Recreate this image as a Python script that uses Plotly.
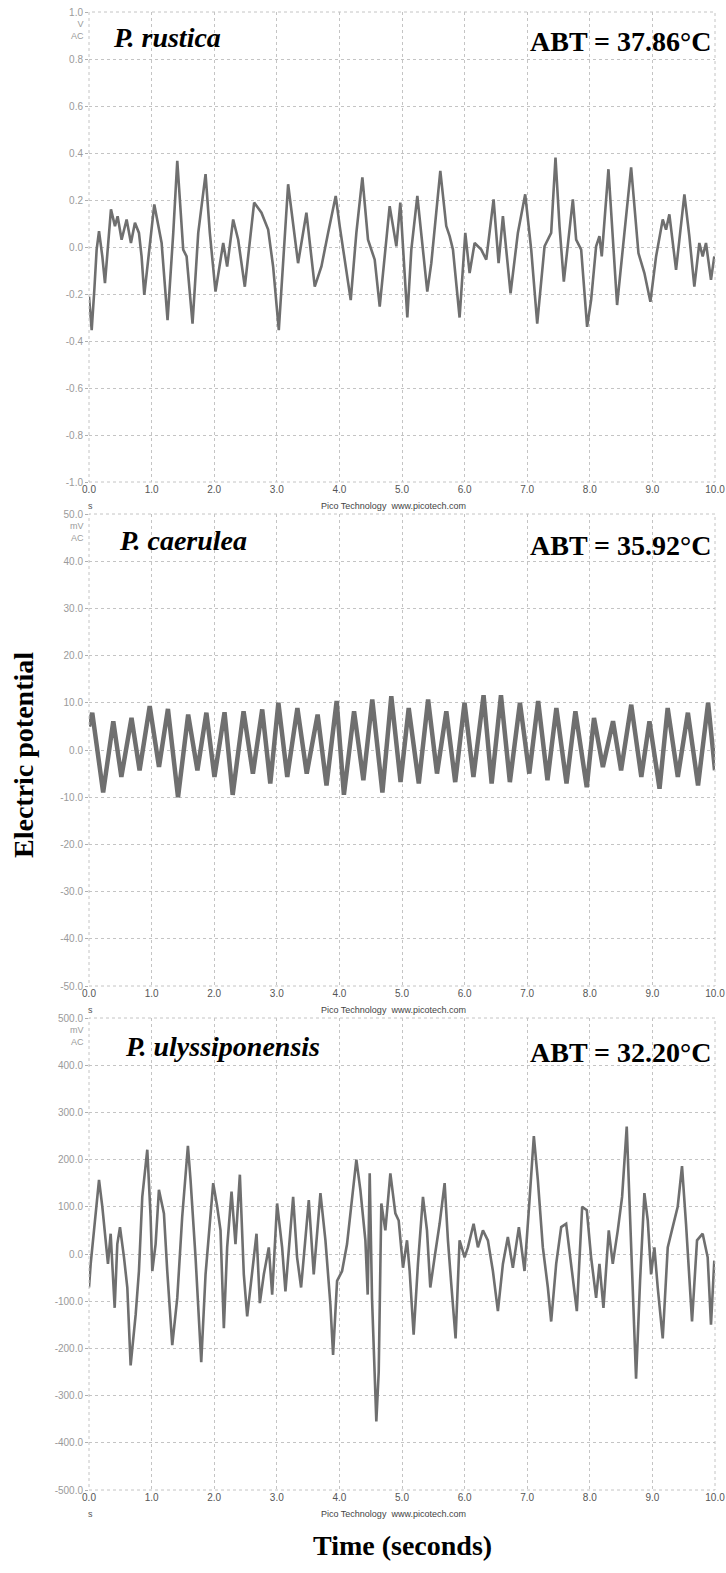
import plotly.graph_objects as go

W, H = 726, 1573

# ---------------- data ----------------
species = ["P. rustica", "P. caerulea", "P. ulyssiponensis"]
abt_labels = ["ABT = 37.86°C", "ABT = 35.92°C", "ABT = 32.20°C"]
units = ["V<br>AC", "mV<br>AC", "mV<br>AC"]

x_tick_vals = [0, 1, 2, 3, 4, 5, 6, 7, 8, 9, 10]
x_tick_text = ["0.0", "1.0", "2.0", "3.0", "4.0", "5.0", "6.0", "7.0", "8.0", "9.0", "10.0"]

y1_tick_vals = [1.0, 0.8, 0.6, 0.4, 0.2, 0.0, -0.2, -0.4, -0.6, -0.8, -1.0]
y1_tick_text = ["1.0", "0.8", "0.6", "0.4", "0.2", "0.0", "-0.2", "-0.4", "-0.6", "-0.8", "-1.0"]
y2_tick_vals = [50, 40, 30, 20, 10, 0, -10, -20, -30, -40, -50]
y2_tick_text = ["50.0", "40.0", "30.0", "20.0", "10.0", "0.0", "-10.0", "-20.0", "-30.0", "-40.0", "-50.0"]
y3_tick_vals = [500, 400, 300, 200, 100, 0, -100, -200, -300, -400, -500]
y3_tick_text = ["500.0", "400.0", "300.0", "200.0", "100.0", "0.0", "-100.0", "-200.0", "-300.0", "-400.0", "-500.0"]

# P. rustica (V)
t1 = [0.000, 0.043, 0.085, 0.122, 0.160, 0.213, 0.255, 0.309, 0.351, 0.415, 0.457, 0.521, 0.601, 0.670,
      0.734, 0.798, 0.840, 0.883, 1.043, 1.160, 1.255, 1.346, 1.410, 1.505, 1.559, 1.654, 1.745, 1.862,
      1.930, 2.021, 2.144, 2.207, 2.303, 2.383, 2.489, 2.638, 2.755, 2.862, 2.941, 3.032, 3.101, 3.181,
      3.340, 3.473, 3.606, 3.713, 3.819, 3.941, 4.005, 4.181, 4.271, 4.367, 4.457, 4.564, 4.644, 4.803,
      4.910, 4.973, 5.085, 5.149, 5.245, 5.309, 5.404, 5.468, 5.612, 5.707, 5.761, 5.814, 5.920, 6.011,
      6.080, 6.160, 6.266, 6.346, 6.463, 6.543, 6.612, 6.734, 6.851, 6.968, 7.064, 7.160, 7.277, 7.383,
      7.452, 7.516, 7.585, 7.729, 7.782, 7.862, 7.957, 8.021, 8.101, 8.154, 8.191, 8.298, 8.383, 8.436,
      8.553, 8.660, 8.777, 8.872, 8.968, 9.059, 9.165, 9.218, 9.271, 9.378, 9.511, 9.590, 9.670, 9.750,
      9.803, 9.856, 9.936, 9.989]
v1 = [-0.211, -0.354, -0.183, -0.011, 0.067, -0.040, -0.154, 0.017, 0.160, 0.089, 0.131, 0.031, 0.117, 0.017,
      0.103, 0.060, -0.040, -0.204, 0.181, 0.017, -0.311, 0.060, 0.367, -0.011, -0.040, -0.326, 0.060, 0.310,
      0.060, -0.190, 0.017, -0.083, 0.117, 0.031, -0.169, 0.189, 0.146, 0.074, -0.083, -0.354, -0.083, 0.267,
      -0.069, 0.146, -0.169, -0.083, 0.060, 0.217, 0.089, -0.226, 0.060, 0.296, 0.031, -0.054, -0.254, 0.174,
      0.003, 0.189, -0.300, -0.011, 0.217, 0.060, -0.190, -0.069, 0.324, 0.089, 0.046, -0.011, -0.300, 0.060,
      -0.111, 0.017, -0.011, -0.054, 0.203, -0.069, 0.131, -0.197, 0.060, 0.224, -0.011, -0.326, 0.003, 0.060,
      0.381, 0.089, -0.147, 0.203, 0.031, -0.011, -0.340, -0.226, 0.003, 0.046, -0.040, 0.331, -0.011, -0.247,
      0.060, 0.339, -0.026, -0.111, -0.233, -0.040, 0.117, 0.074, 0.139, -0.097, 0.224, 0.046, -0.169, 0.017,
      -0.040, 0.017, -0.140, -0.040]

# P. caerulea (mV)
t2 = [0.000, 0.052, 0.226, 0.388, 0.517, 0.679, 0.808, 0.970, 1.118, 1.261, 1.422, 1.584, 1.732, 1.875,
      2.004, 2.165, 2.295, 2.469, 2.618, 2.767, 2.896, 3.025, 3.167, 3.329, 3.478, 3.652, 3.794, 3.956,
      4.072, 4.234, 4.383, 4.525, 4.687, 4.829, 4.977, 5.107, 5.268, 5.417, 5.559, 5.708, 5.850, 5.999,
      6.141, 6.303, 6.432, 6.581, 6.723, 6.884, 7.033, 7.175, 7.324, 7.466, 7.628, 7.770, 7.951, 8.067,
      8.209, 8.371, 8.500, 8.662, 8.823, 8.953, 9.114, 9.244, 9.406, 9.567, 9.729, 9.890, 10.000]
v2 = [5.0, 7.9, -9.0, 6.1, -5.7, 6.8, -4.3, 9.3, -3.6, 8.7, -10.0, 7.5, -4.3, 7.9,
      -5.7, 8.0, -9.5, 8.2, -5.0, 8.6, -7.1, 10.0, -5.7, 8.9, -5.0, 7.5, -7.5, 10.4,
      -9.5, 8.2, -6.4, 10.7, -9.0, 11.4, -6.8, 8.9, -7.1, 10.7, -5.0, 8.2, -6.8, 10.0,
      -5.7, 11.6, -7.1, 11.6, -6.8, 10.0, -5.0, 10.4, -6.4, 8.9, -7.1, 8.2, -7.9, 6.8,
      -3.6, 6.1, -4.3, 9.6, -5.7, 6.1, -8.2, 8.9, -5.7, 7.9, -7.5, 10.0, -4.3]

# P. ulyssiponensis (mV)
t3 = [0.000, 0.027, 0.080, 0.160, 0.213, 0.266, 0.303, 0.346, 0.388, 0.410, 0.452, 0.495, 0.559, 0.612,
      0.665, 0.745, 0.798, 0.851, 0.931, 0.984, 1.011, 1.064, 1.117, 1.197, 1.250, 1.330, 1.410, 1.489,
      1.580, 1.622, 1.702, 1.793, 1.862, 1.984, 2.048, 2.101, 2.154, 2.207, 2.277, 2.340, 2.410, 2.473,
      2.527, 2.606, 2.676, 2.729, 2.793, 2.872, 2.926, 3.005, 3.085, 3.138, 3.261, 3.324, 3.388, 3.511,
      3.590, 3.697, 3.777, 3.856, 3.899, 3.963, 4.043, 4.122, 4.202, 4.271, 4.335, 4.415, 4.452, 4.484,
      4.521, 4.590, 4.628, 4.670, 4.734, 4.814, 4.894, 4.947, 5.016, 5.080, 5.122, 5.186, 5.255, 5.335,
      5.399, 5.452, 5.521, 5.601, 5.681, 5.734, 5.787, 5.856, 5.920, 6.000, 6.053, 6.144, 6.213, 6.293,
      6.372, 6.452, 6.532, 6.612, 6.691, 6.771, 6.867, 6.957, 7.037, 7.106, 7.170, 7.250, 7.330, 7.383,
      7.463, 7.543, 7.622, 7.702, 7.793, 7.878, 7.952, 8.021, 8.101, 8.154, 8.218, 8.303, 8.367, 8.447,
      8.516, 8.590, 8.633, 8.686, 8.739, 8.803, 8.872, 8.926, 8.979, 9.032, 9.085, 9.165, 9.245, 9.324,
      9.404, 9.473, 9.537, 9.633, 9.713, 9.803, 9.883, 9.936, 9.989]
v3 = [-71, -21, 50, 157, 100, 36, -21, 43, -71, -114, 21, 57, -7, -71,
      -236, -129, -36, 121, 221, 79, -36, 21, 136, 86, -36, -193, -93, 79,
      229, 157, -7, -229, -43, 150, 100, 50, -157, 14, 132, 21, 168, -43,
      -132, -43, 43, -104, -43, 14, -86, 107, 14, -79, 121, -7, -71, 114,
      -43, 129, 29, -107, -214, -57, -36, 21, 121, 200, 136, 29, -86, 171,
      -93, -355, -250, 107, 50, 171, 86, 71, -29, 29, -36, -171, -21, 121,
      50, -71, -7, 64, 150, 29, -64, -179, 29, -7, 14, 64, 14, 50,
      29, -36, -121, -21, 36, -29, 57, -36, 114, 250, 157, 14, -71, -143,
      -21, 57, 64, -21, -121, 100, 93, -7, -93, -21, -114, 50, -21, 50,
      121, 270, 107, -93, -264, -57, 129, 71, -43, 14, -71, -179, 14, 57,
      100, 186, 64, -143, 29, 43, -7, -150, -14]

# ---------------- layout geometry (window pixels) ----------------
X0, X1 = 89, 715
panels_px = [(12, 482), (514, 986), (1018, 1490)]
line_widths = [2.6, 4.5, 2.6]
trace_color = "#6f6f6f"
grid_color = "#c4c4c4"


def px(x):
    return x / W


def py(y):
    return 1 - y / H


fig = go.Figure()
times = [t1, t2, t3]
values = [v1, v2, v3]
ytv = [y1_tick_vals, y2_tick_vals, y3_tick_vals]
ytt = [y1_tick_text, y2_tick_text, y3_tick_text]

serif = "Liberation Serif, Times New Roman, serif"
sans = "Liberation Sans, Arial, sans-serif"

annotations = []
shapes = []
for i in range(3):
    sfx = "" if i == 0 else str(i + 1)
    top, bot = panels_px[i]
    fig.add_trace(go.Scatter(x=times[i], y=values[i], mode="lines",
                             line=dict(color=trace_color, width=line_widths[i]),
                             xaxis="x" + sfx, yaxis="y" + sfx, showlegend=False,
                             hoverinfo="skip"))
    rng = [ytv[i][-1], ytv[i][0]]
    fig.layout["xaxis" + sfx] = dict(
        domain=[px(X0), px(X1)], range=[0, 10], anchor="y" + sfx, automargin=False,
        tickmode="array", tickvals=x_tick_vals, ticktext=x_tick_text,
        showgrid=True, gridcolor=grid_color, griddash="dot", gridwidth=1,
        zeroline=False, showline=False, ticks="",
        tickfont=dict(family=sans, size=10, color="#555555"))
    fig.layout["yaxis" + sfx] = dict(
        domain=[py(bot), py(top)], range=rng, anchor="x" + sfx, automargin=False,
        tickmode="array", tickvals=ytv[i], ticktext=ytt[i],
        showgrid=True, gridcolor=grid_color, griddash="dot", gridwidth=1,
        zeroline=False, showline=False, ticks="outside", ticklen=3,
        tickcolor="#b0b0b0",
        tickfont=dict(family=sans, size=10, color="#9a9a9a"))
    # dotted frame
    shapes.append(dict(type="rect", xref="x" + sfx + " domain", yref="y" + sfx + " domain",
                       x0=0, x1=1, y0=0, y1=1, line=dict(color=grid_color, width=1, dash="dot")))
    # species name
    annotations.append(dict(text="<b><i>" + species[i] + "</i></b>", xref="paper", yref="paper",
                            x=px(111 + (i * 6)), y=py(top + 26 + i), xanchor="left", yanchor="middle",
                            showarrow=False, font=dict(family=serif, size=28, color="#000000")))
    # ABT
    annotations.append(dict(text="<b>" + abt_labels[i] + "</b>", xref="paper", yref="paper",
                            x=px(713), y=py(top + 30 + (i * 2)), xanchor="right", yanchor="middle",
                            showarrow=False, font=dict(family=serif, size=28, color="#000000")))
    # units
    annotations.append(dict(text=units[i], xref="paper", yref="paper",
                            x=px(86), y=py(top + 5), xanchor="right", yanchor="top",
                            showarrow=False, align="right",
                            font=dict(family=sans, size=9, color="#9a9a9a")))
    # 's' under 0.0
    annotations.append(dict(text="s", xref="paper", yref="paper",
                            x=px(X0 + 1), y=py(bot + 24), xanchor="center", yanchor="middle",
                            showarrow=False, font=dict(family=sans, size=9, color="#555555")))
    # Pico text
    annotations.append(dict(text="Pico Technology&nbsp;&nbsp;www.picotech.com", xref="paper", yref="paper",
                            x=px(393), y=py(bot + 24), xanchor="center", yanchor="middle",
                            showarrow=False, font=dict(family=sans, size=9, color="#444444")))

annotations.append(dict(text="<b>Electric potential</b>", xref="paper", yref="paper",
                        x=px(23), y=py(755), xanchor="center", yanchor="middle", textangle=-90,
                        showarrow=False, font=dict(family=serif, size=28, color="#000000")))
annotations.append(dict(text="<b>Time (seconds)</b>", xref="paper", yref="paper",
                        x=px(402), y=py(1545), xanchor="center", yanchor="middle",
                        showarrow=False, font=dict(family=serif, size=28, color="#000000")))

fig.update_layout(width=W, height=H, margin=dict(l=0, r=0, t=0, b=0, autoexpand=False),
                  paper_bgcolor="white", plot_bgcolor="white",
                  annotations=annotations, shapes=shapes, showlegend=False)

fig.write_html("out.html", config={"displayModeBar": False},
               post_script="document.body.style.margin='0';document.body.style.overflow='hidden';")
